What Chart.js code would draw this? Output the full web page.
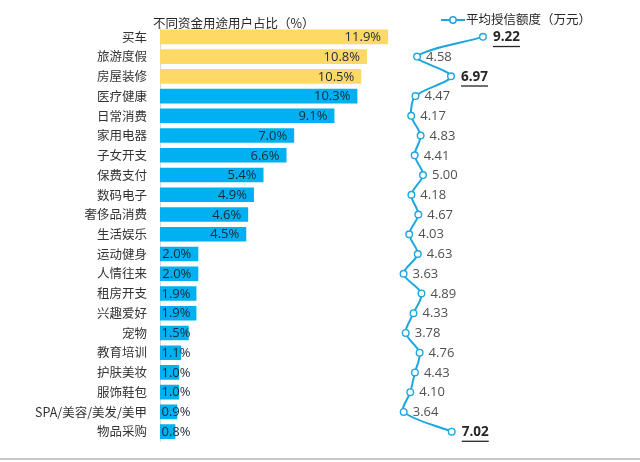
<!DOCTYPE html>
<html>
<head>
<meta charset="utf-8">
<script src="https://cdn.jsdelivr.net/npm/chart.js@4"></script>
<style>
  html, body { margin: 0; padding: 0; background: #fff; }
  #wrap { position: relative; width: 640px; height: 462px; overflow: hidden; }
  #c { position: absolute; left: 0; top: 0; }
  .t { position: absolute; font-family: "Noto Sans CJK SC", sans-serif; font-size: 12.5px; color: #262626; white-space: nowrap; line-height: 18px; }
  #bottomLine { position: absolute; left: 0; top: 458px; width: 640px; height: 2px; background: #c8c8c8; }
</style>
</head>
<body>
<div id="wrap">
  <canvas id="c" width="640" height="462"></canvas>
  <div class="t" id="title" style="left:153px; top:14px;">不同资金用途用户占比（%）</div>
  <div class="t" id="legend" style="left:441px; top:10px;">
    <svg width="24" height="10" style="vertical-align:middle; margin-right:1px; position:relative; top:-1px;">
      <line x1="0" y1="5" x2="24" y2="5" stroke="#1ea7de" stroke-width="2"/>
      <circle cx="12" cy="5" r="3.2" fill="#fff" stroke="#1ea7de" stroke-width="1.5"/>
    </svg>平均授信额度（万元）
  </div>
  <div id="bottomLine"></div>
</div>
<script>
const categories = ["买车","旅游度假","房屋装修","医疗健康","日常消费","家用电器","子女开支","保费支付","数码电子","奢侈品消费","生活娱乐","运动健身","人情往来","租房开支","兴趣爱好","宠物","教育培训","护肤美妆","服饰鞋包","SPA/美容/美发/美甲","物品采购"];
const userShare = [11.9,10.8,10.5,10.3,9.1,7.0,6.6,5.4,4.9,4.6,4.5,2.0,2.0,1.9,1.9,1.5,1.1,1.0,1.0,0.9,0.8];
const avgCredit = [9.22,4.58,6.97,4.47,4.17,4.83,4.41,5.00,4.18,4.67,4.03,4.63,3.63,4.89,4.33,3.78,4.76,4.43,4.10,3.64,7.02];

const YELLOW = '#ffd966';
const BLUE = '#00b0f0';
const LINE = '#1ea7de';

const topBars = 3;
const topCredit = avgCredit.slice().sort((a,b)=>b-a).slice(0,3);

const labelPlugin = {
  id: 'labels',
  afterDatasetsDraw(chart) {
    const ctx = chart.ctx;
    ctx.save();
    // bar labels
    const bm = chart.getDatasetMeta(0);
    ctx.font = '13px "Open Sans", "Noto Sans", sans-serif';
    ctx.fillStyle = '#1b2a3a';
    ctx.textBaseline = 'middle';
    ctx.textAlign = 'left';
    bm.data.forEach((el, i) => {
      const txt = userShare[i].toFixed(1) + '%';
      const w = ctx.measureText(txt).width;
      const left = chart.chartArea.left;
      let right = el.x - 7;
      if (right - w < left + 1.5) right = left + 1.5 + w;
      ctx.fillText(txt, right - w, el.y + 0.5);
    });
    // line labels
    const lm = chart.getDatasetMeta(1);
    lm.data.forEach((el, i) => {
      const v = avgCredit[i];
      const txt = v.toFixed(2);
      const bold = topCredit.includes(v);
      ctx.font = (bold ? 'bold 13.5px' : '13px') + ' "Open Sans", "Noto Sans", sans-serif';
      ctx.fillStyle = bold ? '#262626' : '#505050';
      const x = el.x + (bold ? 10 : 9);
      ctx.fillText(txt, x, el.y + 0.5);
      if (bold) {
        const w = ctx.measureText(txt).width;
        ctx.fillRect(x, el.y + 9, w, 1.3);
      }
    });
    ctx.restore();
  }
};

new Chart(document.getElementById('c'), {
  data: {
    labels: categories,
    datasets: [
      {
        type: 'bar',
        data: userShare,
        backgroundColor: userShare.map((v, i) => i < topBars ? YELLOW : BLUE),
        borderWidth: 0,
        barPercentage: 0.74,
        categoryPercentage: 1.0,
        xAxisID: 'x',
        yAxisID: 'y',
        order: 2
      },
      {
        type: 'line',
        indexAxis: 'y',
        data: avgCredit,
        borderColor: LINE,
        borderWidth: 2,
        tension: 0.3,
        pointRadius: 3.3,
        pointBorderWidth: 1.4,
        pointBackgroundColor: '#fff',
        pointBorderColor: LINE,
        xAxisID: 'x2',
        yAxisID: 'y',
        order: 1
      }
    ]
  },
  options: {
    indexAxis: 'y',
    responsive: false,
    animation: false,
    devicePixelRatio: 1,
    layout: { padding: { top: 27, bottom: 11, right: 20, left: 0 } },
    plugins: { legend: { display: false }, tooltip: { enabled: false } },
    scales: {
      x: { display: false, min: 0, max: 24.0 },
      x2: { display: false, min: -13.52, max: 18.87 },
      y: {
        grid: { display: false, drawTicks: false },
        border: { display: true, color: '#d9d9d9', width: 1 },
        ticks: {
          padding: 13,
          color: '#333',
          font: { family: '"Noto Sans CJK SC", sans-serif', size: 12.5 }
        },
        afterFit(scale) { scale.width = 160; }
      }
    }
  },
  plugins: [labelPlugin]
});
</script>
</body>
</html>
